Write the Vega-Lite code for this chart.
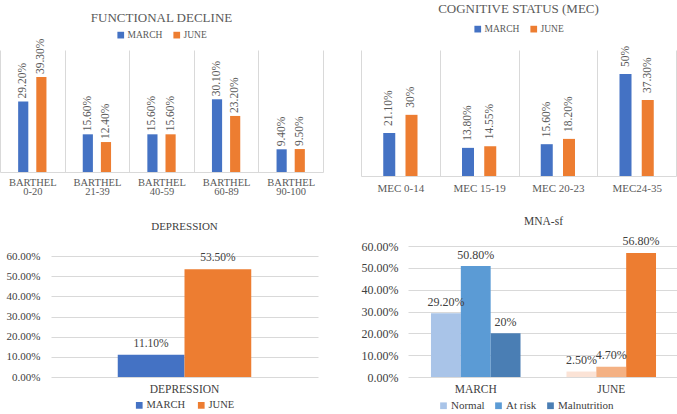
{
  "$schema": "https://vega.github.io/schema/vega-lite/v6.json",
  "padding": {"left": 0, "top": 3, "right": 0, "bottom": 0},
  "autosize": {"type": "pad"},
  "spacing": 18,
  "config": {
    "font": "Liberation Serif",
    "view": {"stroke": null},
    "legend": {"layout": {"top": {"anchor": "middle"}, "bottom": {"anchor": "middle"}}},
    "axis": {"labelFont": "Liberation Serif", "titleFont": "Liberation Serif"}
  },
  "resolve": {"scale": {"color": "independent", "xOffset": "independent"}, "legend": {"color": "independent"}},
  "vconcat": [
    {
      "spacing": 38,
      "resolve": {"scale": {"color": "independent", "xOffset": "independent"}, "legend": {"color": "independent"}},
      "hconcat": [
        {
          "width": 323,
          "height": 122,
          "title": {"text": "FUNCTIONAL DECLINE", "fontSize": 13, "fontWeight": "normal", "color": "#595959", "offset": 5, "anchor": "middle"},
          "data": {"values": [
            {"cat": "BARTHEL 0-20", "month": "MARCH", "value": 29.2, "label": "29.20%"},
            {"cat": "BARTHEL 0-20", "month": "JUNE", "value": 39.3, "label": "39.30%"},
            {"cat": "BARTHEL 21-39", "month": "MARCH", "value": 15.6, "label": "15.60%"},
            {"cat": "BARTHEL 21-39", "month": "JUNE", "value": 12.4, "label": "12.40%"},
            {"cat": "BARTHEL 40-59", "month": "MARCH", "value": 15.6, "label": "15.60%"},
            {"cat": "BARTHEL 40-59", "month": "JUNE", "value": 15.6, "label": "15.60%"},
            {"cat": "BARTHEL 60-89", "month": "MARCH", "value": 30.1, "label": "30.10%"},
            {"cat": "BARTHEL 60-89", "month": "JUNE", "value": 23.2, "label": "23.20%"},
            {"cat": "BARTHEL 90-100", "month": "MARCH", "value": 9.4, "label": "9.40%"},
            {"cat": "BARTHEL 90-100", "month": "JUNE", "value": 9.5, "label": "9.50%"}
          ]},
          "encoding": {
            "x": {"field": "cat", "type": "nominal", "sort": null, "scale": {"paddingInner": 0, "paddingOuter": 0},
              "axis": {"title": null, "labelAngle": 0, "labelExpr": "split(datum.label, ' ')", "labelFontSize": 10.5, "labelLineHeight": 9.5, "labelColor": "#595959", "labelPadding": 5, "ticks": false, "tickBand": "extent", "grid": true, "gridColor": "#D9D9D9", "domain": true, "domainColor": "#D9D9D9"}},
            "xOffset": {"field": "month", "type": "nominal", "sort": ["MARCH", "JUNE"], "scale": {"paddingInner": 0.44, "paddingOuter": 1.24}},
            "y": {"field": "value", "type": "quantitative", "scale": {"domain": [0, 50.5], "nice": false}, "axis": null}
          },
          "layer": [
            {"mark": {"type": "bar"},
             "encoding": {"color": {"field": "month", "type": "nominal", "sort": ["MARCH", "JUNE"], "scale": {"domain": ["MARCH", "JUNE"], "range": ["#4472C4", "#ED7D31"]},
               "legend": {"title": null, "orient": "top", "direction": "horizontal", "symbolType": "square", "symbolSize": 45, "labelFontSize": 9.5, "labelColor": "#595959", "labelOffset": 2, "columnPadding": 9, "offset": 10, "padding": 0}}}},
            {"mark": {"type": "text", "angle": 270, "align": "left", "baseline": "middle", "dx": 3, "fontSize": 11.5, "color": "#595959"},
             "encoding": {"text": {"field": "label"}}}
          ]
        },
        {
          "width": 315,
          "height": 126,
          "title": {"text": "COGNITIVE STATUS (MEC)", "fontSize": 13, "fontWeight": "normal", "color": "#595959", "offset": 8, "anchor": "middle"},
          "data": {"values": [
            {"cat": "MEC 0-14", "month": "MARCH", "value": 21.1, "label": "21.10%"},
            {"cat": "MEC 0-14", "month": "JUNE", "value": 30, "label": "30%"},
            {"cat": "MEC 15-19", "month": "MARCH", "value": 13.8, "label": "13.80%"},
            {"cat": "MEC 15-19", "month": "JUNE", "value": 14.55, "label": "14.55%"},
            {"cat": "MEC 20-23", "month": "MARCH", "value": 15.6, "label": "15.60%"},
            {"cat": "MEC 20-23", "month": "JUNE", "value": 18.2, "label": "18.20%"},
            {"cat": "MEC24-35", "month": "MARCH", "value": 50, "label": "50%"},
            {"cat": "MEC24-35", "month": "JUNE", "value": 37.3, "label": "37.30%"}
          ]},
          "encoding": {
            "x": {"field": "cat", "type": "nominal", "sort": null, "scale": {"paddingInner": 0, "paddingOuter": 0},
              "axis": {"title": null, "labelAngle": 0, "labelFontSize": 11, "labelColor": "#595959", "labelPadding": 6, "ticks": false, "tickBand": "extent", "grid": true, "gridColor": "#D9D9D9", "domain": true, "domainColor": "#D9D9D9"}},
            "xOffset": {"field": "month", "type": "nominal", "sort": ["MARCH", "JUNE"], "scale": {"paddingInner": 0.46, "paddingOuter": 1.185}},
            "y": {"field": "value", "type": "quantitative", "scale": {"domain": [0, 61.8], "nice": false}, "axis": null}
          },
          "layer": [
            {"mark": {"type": "bar"},
             "encoding": {"color": {"field": "month", "type": "nominal", "sort": ["MARCH", "JUNE"], "scale": {"domain": ["MARCH", "JUNE"], "range": ["#4472C4", "#ED7D31"]},
               "legend": {"title": null, "orient": "top", "direction": "horizontal", "symbolType": "square", "symbolSize": 45, "labelFontSize": 9.5, "labelColor": "#595959", "labelOffset": 2, "columnPadding": 9, "offset": 16, "padding": 0}}}},
            {"mark": {"type": "text", "angle": 270, "align": "left", "baseline": "middle", "dx": 7, "fontSize": 11.5, "color": "#595959"},
             "encoding": {"text": {"field": "label"}}}
          ]
        }
      ]
    },
    {
      "spacing": 5,
      "resolve": {"scale": {"color": "independent", "xOffset": "independent"}, "legend": {"color": "independent"}},
      "hconcat": [
        {"width": 1, "height": 1, "data": {"values": []}, "mark": {"type": "point", "opacity": 0}},
        {
          "spacing": 43,
          "resolve": {"scale": {"color": "independent", "xOffset": "independent"}, "legend": {"color": "independent"}},
          "hconcat": [
            {
              "width": 267,
              "height": 131,
              "title": {"text": "DEPRESSION", "fontSize": 11, "fontWeight": "normal", "color": "#404040", "offset": 14, "anchor": "middle"},
              "data": {"values": [
                {"cat": "DEPRESSION", "month": "MARCH", "value": 11.1, "label": "11.10%"},
                {"cat": "DEPRESSION", "month": "JUNE", "value": 53.5, "label": "53.50%"}
              ]},
              "encoding": {
                "x": {"field": "cat", "type": "nominal", "sort": null, "scale": {"paddingInner": 0, "paddingOuter": 0},
                  "axis": {"title": null, "labelAngle": 0, "labelFontSize": 11.5, "labelColor": "#404040", "labelPadding": 6, "ticks": false, "domain": false, "grid": false}},
                "xOffset": {"field": "month", "type": "nominal", "sort": ["MARCH", "JUNE"], "scale": {"paddingInner": 0, "paddingOuter": 1.51}},
                "y": {"field": "value", "type": "quantitative", "scale": {"domain": [0, 65], "nice": false},
                  "axis": {"title": null, "values": [0, 10, 20, 30, 40, 50, 60], "labelExpr": "format(datum.value, '.2f') + '%'", "labelFontSize": 11, "labelColor": "#404040", "labelPadding": 11, "ticks": false, "domain": false, "grid": true, "gridColor": "#D9D9D9"}}
              },
              "layer": [
                {"mark": {"type": "bar"},
                 "encoding": {"color": {"field": "month", "type": "nominal", "sort": ["MARCH", "JUNE"], "scale": {"domain": ["MARCH", "JUNE"], "range": ["#4472C4", "#ED7D31"]},
                   "legend": {"title": null, "orient": "bottom", "direction": "horizontal", "symbolType": "square", "symbolSize": 45, "labelFontSize": 10.5, "labelColor": "#404040", "labelOffset": 2, "columnPadding": 10, "offset": 5, "padding": 0}}}},
                {"mark": {"type": "text", "baseline": "alphabetic", "align": "center", "dy": -8, "fontSize": 11.5, "color": "#404040"},
                 "encoding": {"text": {"field": "label"}}}
              ]
            },
            {
              "width": 271,
              "height": 131,
              "title": {"text": "MNA-sf", "fontSize": 11.5, "fontWeight": "normal", "color": "#404040", "offset": 8, "anchor": "middle"},
              "data": {"values": [
                {"month": "MARCH", "status": "Normal", "series": "MARCH Normal", "value": 29.2, "label": "29.20%"},
                {"month": "MARCH", "status": "At risk", "series": "MARCH At risk", "value": 50.8, "label": "50.80%"},
                {"month": "MARCH", "status": "Malnutrition", "series": "MARCH Malnutrition", "value": 20, "label": "20%"},
                {"month": "JUNE", "status": "Normal", "series": "JUNE Normal", "value": 2.5, "label": "2.50%"},
                {"month": "JUNE", "status": "At risk", "series": "JUNE At risk", "value": 4.7, "label": "4.70%"},
                {"month": "JUNE", "status": "Malnutrition", "series": "JUNE Malnutrition", "value": 56.8, "label": "56.80%"}
              ]},
              "encoding": {
                "x": {"field": "month", "type": "nominal", "sort": ["MARCH", "JUNE"], "scale": {"paddingInner": 0, "paddingOuter": 0},
                  "axis": {"title": null, "labelAngle": 0, "labelFontSize": 11.5, "labelColor": "#404040", "labelPadding": 6, "ticks": false, "domain": false, "grid": false}},
                "xOffset": {"field": "status", "type": "nominal", "sort": ["Normal", "At risk", "Malnutrition"], "scale": {"paddingInner": 0, "paddingOuter": 0.77}},
                "y": {"field": "value", "type": "quantitative", "scale": {"domain": [0, 60], "nice": false},
                  "axis": {"title": null, "values": [0, 10, 20, 30, 40, 50, 60], "labelExpr": "format(datum.value, '.2f') + '%'", "labelFontSize": 12, "labelColor": "#404040", "labelPadding": 10, "ticks": false, "domain": false, "grid": true, "gridColor": "#D9D9D9"}}
              },
              "layer": [
                {"mark": {"type": "bar"},
                 "encoding": {"color": {"field": "series", "type": "nominal",
                   "scale": {"domain": ["MARCH Normal", "MARCH At risk", "MARCH Malnutrition", "JUNE Normal", "JUNE At risk", "JUNE Malnutrition"], "range": ["#A9C4E8", "#5B9BD5", "#4A7EB4", "#FBE3D6", "#F4B183", "#ED7D31"]},
                   "legend": {"title": null, "orient": "none", "legendX": 30, "legendY": 154, "direction": "horizontal", "values": ["MARCH Normal", "MARCH At risk", "MARCH Malnutrition"], "labelExpr": "replace(datum.label, 'MARCH ', '')", "symbolType": "square", "symbolSize": 45, "labelFontSize": 11, "labelColor": "#404040", "labelOffset": 2, "columnPadding": 8, "padding": 0}}}},
                {"mark": {"type": "text", "baseline": "alphabetic", "align": "center", "dy": -7.5, "fontSize": 12, "color": "#404040"},
                 "encoding": {"text": {"field": "label"}}}
              ]
            }
          ]
        }
      ]
    }
  ]
}
